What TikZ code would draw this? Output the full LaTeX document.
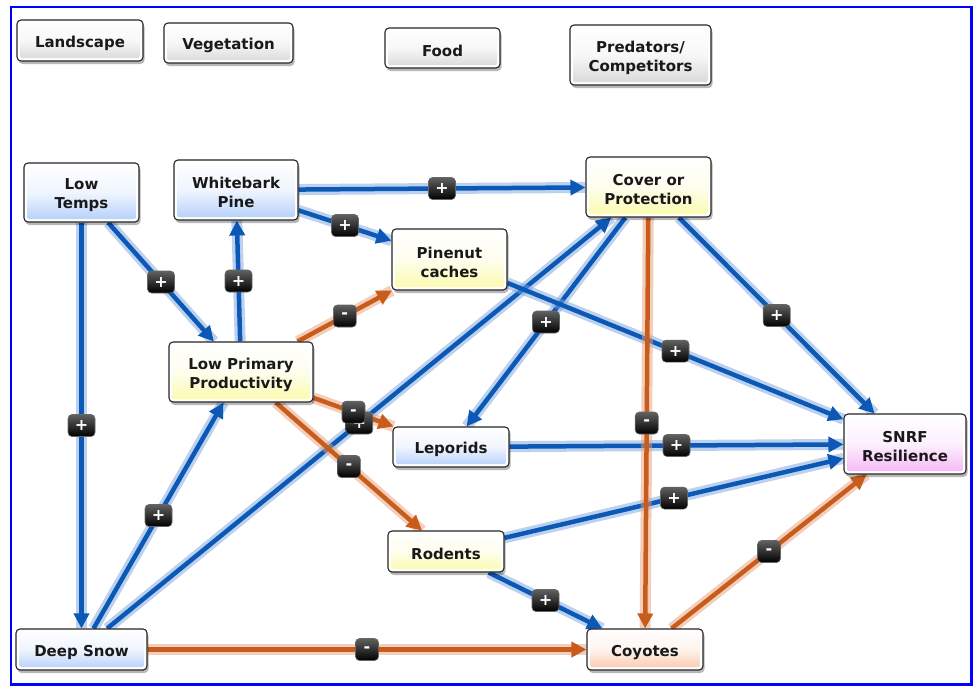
\documentclass[tikz,border=0pt]{standalone}
\usepackage{fontspec}
\setmainfont{DejaVu Sans}
\usetikzlibrary{arrows.meta,shadows,calc,backgrounds}

\pgfdeclarelayer{bottom}
\pgfdeclarelayer{background}
\pgfsetlayers{bottom,background,main}

\definecolor{edgeblue}{RGB}{12,88,182}
\definecolor{haloblue}{RGB}{120,165,220}
\definecolor{edgeorange}{RGB}{200,92,28}
\definecolor{haloorange}{RGB}{232,160,120}
\definecolor{fillblue}{RGB}{178,206,250}
\definecolor{fillyellow}{RGB}{250,250,170}
\definecolor{fillpink}{RGB}{245,180,245}
\definecolor{fillpeach}{RGB}{250,198,168}
\definecolor{fillgray}{RGB}{215,215,215}
\definecolor{frameblue}{RGB}{0,0,255}
\definecolor{boxtext}{RGB}{25,25,25}

\newcommand{\tstr}{\rule{0pt}{17pt}}

\tikzset{
  concept/.style={draw=black!85, line width=1.1pt, rounded corners=4pt, fill=white,
    align=center, font=\bfseries\fontsize{15}{19}\selectfont, text=boxtext, inner sep=0pt,
    drop shadow={shadow xshift=1.5pt, shadow yshift=-3pt, opacity=0.28, fill=black},
    path picture={\shade[top color=white, bottom color=#1, middle color=white!80!#1, rounded corners=2pt]
      ($(path picture bounding box.south west)+(3pt,3pt)$) rectangle
      ($(path picture bounding box.north east)+(-3pt,-3pt)$);}},
  posedge/.style={draw=edgeblue, line width=4.5pt, -{Triangle[length=15pt,width=15pt]},
    preaction={draw=haloblue, draw opacity=0.5, line width=11pt, -}},
  negedge/.style={draw=edgeorange, line width=4.5pt, -{Triangle[length=15pt,width=15pt]},
    preaction={draw=haloorange, draw opacity=0.5, line width=11pt, -}},
  signbox/.style={draw=black!60, line width=0.6pt, rounded corners=4pt, top color=black!62, bottom color=black,
    text=white, font=\bfseries\fontsize{16}{16}\selectfont, inner sep=0pt, minimum height=22pt},
  plussign/.style={signbox, minimum width=27pt},
  minussign/.style={signbox, minimum width=23pt},
}

\begin{document}
\begin{tikzpicture}[x=1pt,y=-1pt]
\useasboundingbox (0,0) rectangle (974,686);
\begin{pgfonlayer}{bottom}
\fill[white] (0,0) rectangle (974,686);
\end{pgfonlayer}
\draw[frameblue, line width=2.5pt] (11,7) rectangle (971.5,684.5);

% category boxes
\node[concept=fillgray, minimum width=126pt, minimum height=41pt] (land) at (80,40.5) {\tstr Landscape};
\node[concept=fillgray, minimum width=129pt, minimum height=40pt] (veg) at (228.5,43) {\tstr Vegetation};
\node[concept=fillgray, minimum width=115pt, minimum height=40pt] (food) at (442.5,48) {\tstr Food};
\node[concept=fillgray, minimum width=141pt, minimum height=60pt] (pred) at (640.5,55) {\tstr Predators/\\Competitors};

% concepts
\node[concept=fillblue, minimum width=115pt, minimum height=59pt] (lt) at (81.5,192.5) {\tstr Low\\Temps};
\node[concept=fillblue, minimum width=124pt, minimum height=60pt] (wp) at (236,190) {\tstr Whitebark\\Pine};
\node[concept=fillyellow, minimum width=115pt, minimum height=61pt] (pin) at (449.5,259.5) {\tstr Pinenut\\caches};
\node[concept=fillyellow, minimum width=125pt, minimum height=60pt] (cov) at (648.5,187) {\tstr Cover or\\Protection};
\node[concept=fillyellow, minimum width=144pt, minimum height=60pt] (lpp) at (241,372) {\tstr Low Primary\\Productivity};
\node[concept=fillblue, minimum width=116pt, minimum height=40pt] (lep) at (451,447) {\tstr Leporids};
\node[concept=fillpink, minimum width=122pt, minimum height=60pt] (snrf) at (905,444) {\tstr SNRF\\Resilience};
\node[concept=fillyellow, minimum width=116pt, minimum height=41pt] (rod) at (446,551.5) {\tstr Rodents};
\node[concept=fillblue, minimum width=131pt, minimum height=41pt] (ds) at (81.5,649.5) {\tstr Deep Snow};
\node[concept=fillpeach, minimum width=116pt, minimum height=41pt] (coy) at (645,649.5) {\tstr Coyotes};

\begin{scope}[on background layer]
\draw[posedge] (lt) -- coordinate (m1) (ds);
\draw[posedge] (lt) -- coordinate (m2) (lpp);
\draw[posedge] (lpp) -- coordinate (m3) (wp);
\draw[posedge] (wp) -- coordinate (m4) (cov);
\draw[posedge] (wp) -- coordinate (m5) (pin);
\draw[posedge] (ds) -- coordinate (m6) (lpp);
\draw[posedge] (ds) -- coordinate (m7) (cov);
\draw[posedge] (cov) -- coordinate (m8) (lep);
\draw[posedge] (pin) -- coordinate (m9) (snrf);
\draw[posedge] (cov) -- coordinate (m10) (snrf);
\draw[posedge] (lep) -- coordinate (m11) (snrf);
\draw[posedge] (rod) -- coordinate (m12) (snrf);
\draw[posedge] (rod) -- coordinate (m13) (coy);
\draw[negedge] (lpp) -- coordinate (n1) (pin);
\draw[negedge] (lpp) -- coordinate (n2) (lep);
\draw[negedge] (lpp) -- coordinate (n3) (rod);
\draw[negedge] (cov) -- coordinate (n4) (coy);
\draw[negedge] (ds) -- coordinate (n5) (coy);
\draw[negedge] (coy) -- coordinate (n6) (snrf);
\end{scope}

% signs
\node[plussign] (s1) at (m1) {+};
\node[plussign] (s2) at (m2) {+};
\node[plussign] (s3) at (m3) {+};
\node[plussign] (s4) at (m4) {+};
\node[plussign] (s5) at (m5) {+};
\node[plussign] (s6) at (m6) {+};
\node[plussign] (s7) at (m7) {+};
\node[plussign] (s8) at (m8) {+};
\node[plussign] (s9) at (m9) {+};
\node[plussign] (s10) at (m10) {+};
\node[plussign] (s11) at (m11) {+};
\node[plussign] (s12) at (m12) {+};
\node[plussign] (s13) at (m13) {+};
\node[minussign] (t1) at (n1) {-};
\node[minussign] (t2) at (n2) {-};
\node[minussign] (t3) at (n3) {-};
\node[minussign] (t4) at (n4) {-};
\node[minussign] (t5) at (n5) {-};
\node[minussign] (t6) at (n6) {-};
\end{tikzpicture}
\end{document}
